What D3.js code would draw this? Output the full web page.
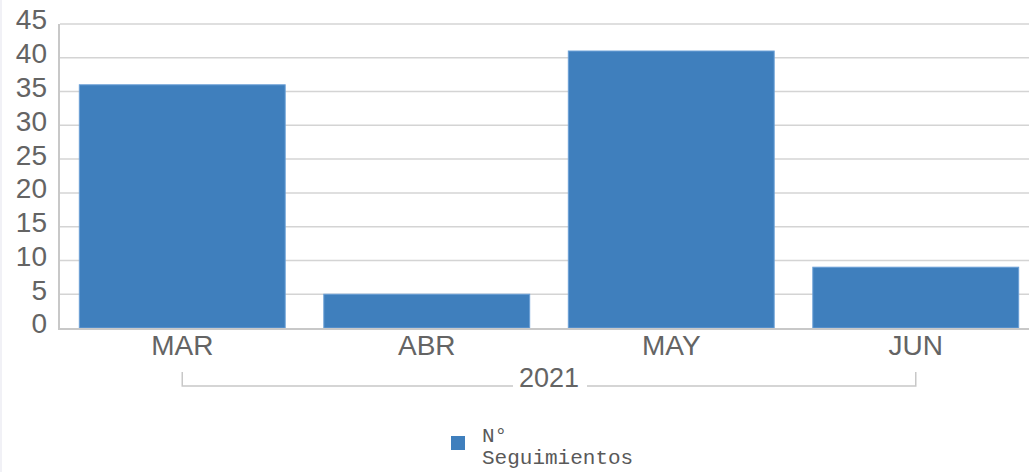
<!DOCTYPE html>
<html>
<head>
<meta charset="utf-8">
<script src="https://cdn.jsdelivr.net/npm/d3@7"></script>
<style>
  body { margin: 0; background: #fff; }
  svg { display: block; }
  .tick text { font-family: "Liberation Sans", Arial, sans-serif; fill: #646464; }
</style>
</head>
<body>
<div id="viz"></div>
<script>
var months = ["MAR", "ABR", "MAY", "JUN"];
var values = [36, 5, 41, 9];
var yTicks = [0, 5, 10, 15, 20, 25, 30, 35, 40, 45];
var yearLabel = "2021";
var seriesName = ["N°", "Seguimientos"];

var W = 1029, H = 472;
var margin = { top: 24, left: 60, bottom: 144 },
  plotRight = 1038,
  height = H - margin.top - margin.bottom;

var svg = d3.select("#viz").append("svg")
  .attr("width", W)
  .attr("height", H);

// faint page border on the left
svg.append("rect").attr("x", 0).attr("y", 0).attr("width", 2).attr("height", H).attr("fill", "#f1f1f6");

var g = svg.append("g").attr("transform", "translate(" + margin.left + "," + margin.top + ")");

var xScale = d3.scaleBand().domain(months).range([0, plotRight - margin.left]).paddingInner(0.158).paddingOuter(0.079);
var yScale = d3.scaleLinear().domain([0, 45]).range([height, 0]);

// gridlines
g.selectAll("line.grid")
  .data(yTicks.slice(1))
  .enter().append("line")
  .attr("class", "grid")
  .attr("x1", 0).attr("x2", plotRight - margin.left)
  .attr("y1", function (d) { return yScale(d); })
  .attr("y2", function (d) { return yScale(d); })
  .attr("stroke", "#d4d4d4").attr("stroke-width", 1.5);

// y axis
var yAxis = g.append("g")
  .call(d3.axisLeft(yScale).tickValues(yTicks).tickSize(0).tickPadding(13));
yAxis.select(".domain").remove();
yAxis.selectAll("text").style("font-size", "28px").attr("dy", "0.32em").attr("y", -4);

// bars
g.selectAll("rect.bar")
  .data(values)
  .enter().append("rect")
  .attr("class", "bar")
  .attr("x", function (d, i) { return xScale(months[i]); })
  .attr("y", function (d) { return yScale(d); })
  .attr("width", xScale.bandwidth())
  .attr("height", function (d) { return height - yScale(d); })
  .attr("fill", "#3f7fbd")
  .attr("stroke", "#6a9fd6").attr("stroke-width", 1);

// axis lines
g.append("line").attr("x1", -1).attr("x2", -1).attr("y1", 0).attr("y2", height + 1)
  .attr("stroke", "#c8c8c8").attr("stroke-width", 2);
g.append("line").attr("x1", -2).attr("x2", plotRight - margin.left).attr("y1", height + 1).attr("y2", height + 1)
  .attr("stroke", "#c8c8c8").attr("stroke-width", 2);

// x axis labels
var xAxis = g.append("g")
  .attr("transform", "translate(0," + height + ")")
  .call(d3.axisBottom(xScale).tickSize(0).tickPadding(7));
xAxis.select(".domain").remove();
xAxis.selectAll("text").style("font-size", "28px");

// year bracket
var x0 = xScale(months[0]) + xScale.bandwidth() / 2,
  x1 = xScale(months[months.length - 1]) + xScale.bandwidth() / 2,
  xm = (x0 + x1) / 2;
var by = height + 58;
var bracket = g.append("g").attr("stroke", "#c8c8c8").attr("stroke-width", 1.5).attr("fill", "none");
bracket.append("path").attr("d", "M" + x0 + "," + (by - 14) + "V" + by + "H" + (xm - 36));
bracket.append("path").attr("d", "M" + (xm + 38) + "," + by + "H" + x1 + "V" + (by - 14));
g.append("text")
  .attr("x", xm).attr("y", by + 1)
  .attr("text-anchor", "middle")
  .style("font-family", "'Liberation Sans', Arial, sans-serif")
  .style("font-size", "27px")
  .style("fill", "#646464")
  .text(yearLabel);

// legend
svg.append("rect").attr("x", 451).attr("y", 436).attr("width", 14).attr("height", 14).attr("fill", "#3f7fbd");
svg.append("g").selectAll("text")
  .data(seriesName)
  .enter().append("text")
  .attr("x", 482)
  .attr("y", function (d, i) { return 442 + i * 22; })
  .style("font-family", "'Liberation Mono', 'Courier New', monospace")
  .style("font-size", "21px")
  .style("fill", "#595959")
  .text(function (d) { return d; });
</script>
</body>
</html>
